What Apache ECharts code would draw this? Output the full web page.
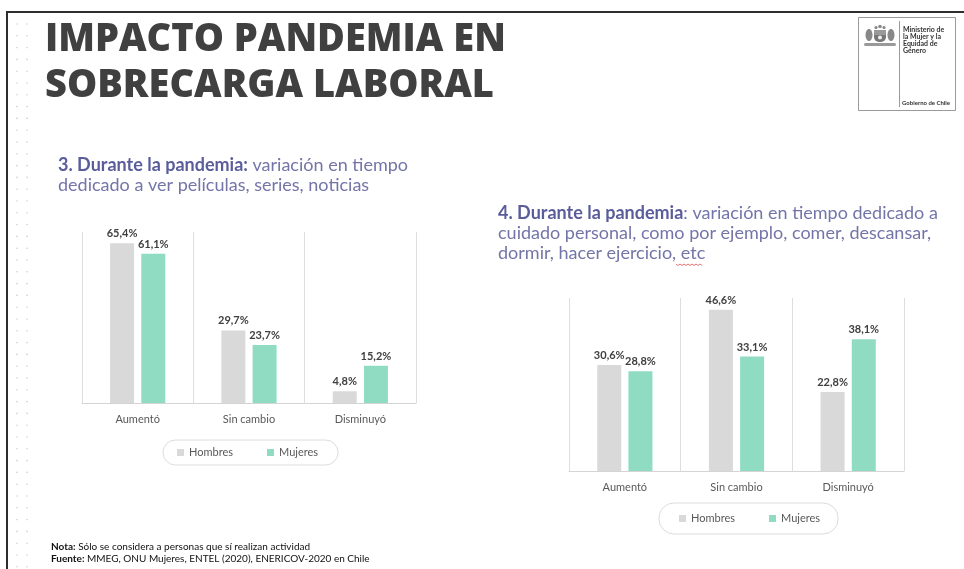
<!DOCTYPE html>
<html>
<head>
<meta charset="utf-8">
<script src="https://cdn.jsdelivr.net/npm/echarts@6/dist/echarts.min.js"></script>
<style>
html,body{margin:0;padding:0;background:#fff;}
#c{width:964px;height:569px;}
</style>
</head>
<body>
<div id="c"></div>
<script>
const categories = ['Aumentó', 'Sin cambio', 'Disminuyó'];
const seriesNames = ['Hombres', 'Mujeres'];
const hombres3 = [65.4, 29.7, 4.8];
const mujeres3 = [61.1, 23.7, 15.2];
const hombres4 = [30.6, 46.6, 22.8];
const mujeres4 = [28.8, 33.1, 38.1];

const GRAY = '#d9d9d9';
const MINT = '#8fdcc3';
const FONT = 'Lato, "Open Sans", sans-serif';

const chart = echarts.init(document.getElementById('c'), null, {renderer: 'canvas'});

function fmt(p) { return p.value.toFixed(1).replace('.', ',') + '%'; }

function xAx(gi) {
  return {
    type: 'category', gridIndex: gi, data: categories,
    axisLine: {show: true, lineStyle: {color: '#d4d4d4', width: 1}},
    axisTick: {show: false},
    splitLine: {show: true, lineStyle: {color: '#dedede', width: 1}},
    axisLabel: {color: '#595959', fontSize: 11, fontFamily: FONT, margin: 11}
  };
}
function yAx(gi, max) {
  return {type: 'value', gridIndex: gi, min: 0, max: max, show: false, splitLine: {show: false}};
}
function bar(name, data, gi, color) {
  return {
    name: name, type: 'bar', xAxisIndex: gi, yAxisIndex: gi, data: data,
    barWidth: 24, barGap: '30%',
    itemStyle: {color: color},
    label: {show: true, position: 'top', distance: 4, formatter: fmt,
      color: '#404040', fontSize: 11, fontWeight: 'bold', fontFamily: FONT},
    animation: false
  };
}
function legend(left, top, padding) {
  return {
    data: seriesNames, left: left, top: top, orient: 'horizontal',
    icon: 'rect', itemWidth: 7, itemHeight: 7, itemGap: 34,
    padding: padding, borderColor: '#dcdcdc', borderWidth: 1, borderRadius: 15,
    textStyle: {color: '#595959', fontSize: 11, fontFamily: FONT}
  };
}

// decoration
const graphics = [];
for (let y = 24; y < 569; y += 11.8) {
  [17, 27].forEach(function (x) {
    graphics.push({type: 'circle', shape: {cx: x, cy: y, r: 0.8}, style: {fill: '#cfcfcf'}, silent: true});
  });
}
graphics.push(
  {type: 'line', shape: {x1: 6, y1: 12, x2: 964, y2: 12}, style: {stroke: '#2e2e2e', lineWidth: 2}},
  {type: 'line', shape: {x1: 7, y1: 11, x2: 7, y2: 569}, style: {stroke: '#2e2e2e', lineWidth: 2}},
  {type: 'text', x: 45, y: 40, style: {text: 'IMPACTO PANDEMIA EN', fill: '#404040',
    font: '800 38px "Open Sans", sans-serif', verticalAlign: 'middle'}},
  {type: 'text', x: 45, y: 86, style: {text: 'SOBRECARGA LABORAL', fill: '#404040',
    font: '800 38px "Open Sans", sans-serif', verticalAlign: 'middle'}},
  // logo
  {type: 'rect', shape: {x: 858.5, y: 17.5, width: 97, height: 93}, style: {fill: 'none', stroke: '#9a9a9a', lineWidth: 1}},
  {type: 'line', shape: {x1: 899.5, y1: 21, x2: 899.5, y2: 107}, style: {stroke: '#9a9a9a', lineWidth: 1}},
  {type: 'text', x: 903, y: 26, style: {text: 'Ministerio de\nla Mujer y la\nEquidad de\nGénero', fill: '#333',
    font: 'bold 7px Lato, sans-serif', lineHeight: 7, verticalAlign: 'top'}},
  {type: 'text', x: 902, y: 103, style: {text: 'Gobierno de Chile', fill: '#333',
    font: 'bold 6px Lato, sans-serif', verticalAlign: 'middle'}},
  {type: 'rect', shape: {x: 874, y: 30, width: 12, height: 12, r: [0, 0, 5, 5]}, style: {fill: '#777'}},
  {type: 'rect', shape: {x: 874, y: 30, width: 12, height: 5}, style: {fill: '#999'}},
  {type: 'circle', shape: {cx: 880, cy: 37.5, r: 2}, style: {fill: '#eee'}},
  {type: 'ellipse', shape: {cx: 869, cy: 35, rx: 3.5, ry: 6}, style: {fill: '#888'}},
  {type: 'ellipse', shape: {cx: 891, cy: 35, rx: 3.5, ry: 6}, style: {fill: '#888'}},
  {type: 'circle', shape: {cx: 876, cy: 27.5, r: 1.6}, style: {fill: '#888'}},
  {type: 'circle', shape: {cx: 880, cy: 26.5, r: 1.8}, style: {fill: '#888'}},
  {type: 'circle', shape: {cx: 884, cy: 27.5, r: 1.6}, style: {fill: '#888'}},
  {type: 'rect', shape: {x: 864, y: 43, width: 32, height: 3, r: 1.5}, style: {fill: '#999'}},
  // red spelling underline under "etc"
  {type: 'polyline', shape: {points: [[676,264],[678,265.5],[680,264],[682,265.5],[684,264],[686,265.5],[688,264],[690,265.5],[692,264],[694,265.5],[696,264],[698,265.5],[700,264],[702,265.5]]},
    style: {stroke: '#e05050', lineWidth: 0.8, fill: 'none'}},
  // footer
  {type: 'text', x: 51, y: 547, style: {
    text: '{b|Nota:} Sólo se considera a personas que sí realizan actividad',
    fill: '#111', font: '10px Lato, sans-serif', verticalAlign: 'middle',
    rich: {b: {fontWeight: 'bold', fontSize: 10, fontFamily: 'Lato', fill: '#111'}}}},
  {type: 'text', x: 51, y: 559, style: {
    text: '{b|Fuente:} MMEG, ONU Mujeres, ENTEL (2020), ENERICOV-2020 en Chile',
    fill: '#111', font: '10px Lato, sans-serif', verticalAlign: 'middle',
    rich: {b: {fontWeight: 'bold', fontSize: 10, fontFamily: 'Lato', fill: '#111'}}}}
);

const richT = {
  b: {fontWeight: 'bold', color: '#5b5d9b', fontSize: 18, fontFamily: FONT, lineHeight: 20},
  r: {fontWeight: 'normal', color: '#7375a8', fontSize: 18, fontFamily: FONT, lineHeight: 20}
};

chart.setOption({
  backgroundColor: '#ffffff',
  animation: false,
  title: [
    {left: 58, top: 155, padding: 0,
     text: '{b|3. Durante la pandemia:}{r| variación en tiempo}\n{r|dedicado a ver películas, series, noticias}',
     textStyle: {rich: richT}},
    {left: 498, top: 203, padding: 0,
     text: '{b|4. Durante la pandemia}{r|: variación en tiempo dedicado a}\n{r|cuidado personal, como por ejemplo, comer, descansar,}\n{r|dormir, hacer ejercicio, etc}',
     textStyle: {rich: richT}}
  ],
  grid: [
    {left: 82, top: 232, width: 334, height: 171, containLabel: false},
    {left: 569, top: 298, width: 335, height: 173, containLabel: false}
  ],
  xAxis: [xAx(0), xAx(1)],
  yAxis: [yAx(0, 70), yAx(1, 50)],
  legend: [legend(163, 440, [7, 20, 7, 14]), legend(659, 503, [10, 18, 10, 20])],
  series: [
    bar(seriesNames[0], hombres3, 0, GRAY),
    bar(seriesNames[1], mujeres3, 0, MINT),
    bar(seriesNames[0], hombres4, 1, GRAY),
    bar(seriesNames[1], mujeres4, 1, MINT)
  ],
  graphic: graphics
});
</script>
</body>
</html>
